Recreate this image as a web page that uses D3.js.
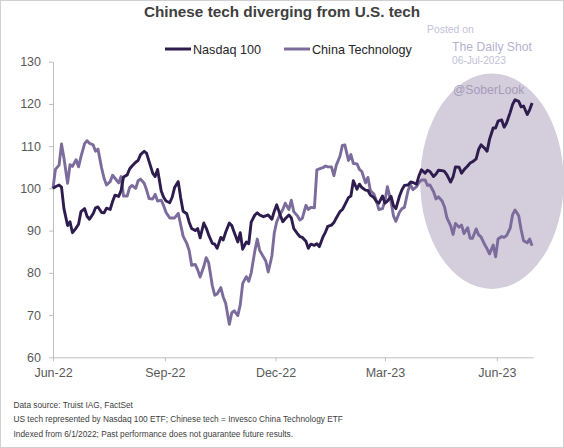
<!DOCTYPE html>
<html><head><meta charset="utf-8">
<script src="https://cdn.jsdelivr.net/npm/d3@7"></script>
<style>body{margin:0;background:#fff}svg{display:block;font-family:"Liberation Sans",Arial,sans-serif}</style>
</head><body><svg id="c" width="564" height="448"></svg>
<script>
const title = "Chinese tech diverging from U.S. tech";
const seriesNames = ["Nasdaq 100", "China Technology"];
const seriesColors = ["#2d1c4d", "#7c6c9b"];
const dates = [
"2022-06-01","2022-06-03","2022-06-06","2022-06-08","2022-06-10","2022-06-13","2022-06-15","2022-06-17","2022-06-20","2022-06-22","2022-06-24","2022-06-27","2022-06-29",
"2022-07-01","2022-07-04","2022-07-06","2022-07-08","2022-07-11","2022-07-13","2022-07-15","2022-07-18","2022-07-20","2022-07-22","2022-07-25","2022-07-27","2022-07-29",
"2022-08-01","2022-08-03","2022-08-05","2022-08-08","2022-08-10","2022-08-12","2022-08-15","2022-08-17","2022-08-19","2022-08-22","2022-08-24","2022-08-26","2022-08-29","2022-08-31",
"2022-09-02","2022-09-05","2022-09-07","2022-09-09","2022-09-12","2022-09-14","2022-09-16","2022-09-19","2022-09-21","2022-09-23","2022-09-26","2022-09-28","2022-09-30",
"2022-10-03","2022-10-05","2022-10-07","2022-10-10","2022-10-12","2022-10-14","2022-10-17","2022-10-19","2022-10-21","2022-10-24","2022-10-26","2022-10-28","2022-10-31",
"2022-11-02","2022-11-04","2022-11-07","2022-11-09","2022-11-11","2022-11-14","2022-11-16","2022-11-18","2022-11-21","2022-11-23","2022-11-25","2022-11-28","2022-11-30",
"2022-12-02","2022-12-05","2022-12-07","2022-12-09","2022-12-12","2022-12-14","2022-12-16","2022-12-19","2022-12-21","2022-12-23","2022-12-26","2022-12-28","2022-12-30",
"2023-01-02","2023-01-04","2023-01-06","2023-01-09","2023-01-11","2023-01-13","2023-01-16","2023-01-18","2023-01-20","2023-01-23","2023-01-25","2023-01-27","2023-01-30",
"2023-02-01","2023-02-03","2023-02-06","2023-02-08","2023-02-10","2023-02-13","2023-02-15","2023-02-17","2023-02-20","2023-02-22","2023-02-24","2023-02-27",
"2023-03-01","2023-03-03","2023-03-06","2023-03-08","2023-03-10","2023-03-13","2023-03-15","2023-03-17","2023-03-20","2023-03-22","2023-03-24","2023-03-27","2023-03-29","2023-03-31",
"2023-04-03","2023-04-05","2023-04-07","2023-04-10","2023-04-12","2023-04-14","2023-04-17","2023-04-19","2023-04-21","2023-04-24","2023-04-26","2023-04-28",
"2023-05-01","2023-05-03","2023-05-05","2023-05-08","2023-05-10","2023-05-12","2023-05-15","2023-05-17","2023-05-19","2023-05-22","2023-05-24","2023-05-26","2023-05-29","2023-05-31",
"2023-06-02","2023-06-05","2023-06-07","2023-06-09","2023-06-12","2023-06-14","2023-06-16","2023-06-19","2023-06-21","2023-06-23","2023-06-26","2023-06-28","2023-06-30"];
const nasdaq = [
100.0,100.4,100.8,100.3,95.2,91.2,92.1,89.5,90.6,91.5,94.5,95.2,93.4,
92.7,94.0,95.4,95.6,94.3,94.2,95.3,95.0,96.9,98.4,98.1,99.5,102.7,
103.2,104.6,105.3,106.2,106.6,108.0,108.8,108.3,106.4,103.6,102.8,104.5,99.4,97.9,
97.0,96.6,97.9,100.2,101.6,97.8,94.6,94.0,92.0,90.5,90.0,90.5,88.3,
91.8,90.6,89.0,87.0,86.8,85.8,88.4,87.8,89.6,91.8,91.2,89.6,87.3,
89.5,85.6,87.3,86.9,92.0,93.7,94.2,93.7,93.3,93.5,93.7,92.7,94.6,
96.1,93.6,92.1,92.8,93.7,93.0,90.5,89.3,88.6,88.4,87.5,85.8,86.8,
86.5,86.9,86.2,88.5,89.6,91.0,91.3,91.9,93.0,94.5,95.0,96.1,97.8,
98.2,101.8,99.8,101.0,100.2,99.6,99.5,98.4,97.8,96.9,96.5,98.2,
96.5,97.0,98.1,95.9,95.2,98.2,99.7,100.7,100.8,101.5,101.4,101.0,103.0,104.4,
103.6,104.3,104.0,102.8,103.4,104.3,104.2,104.0,103.2,101.5,102.7,105.1,
105.0,103.6,104.4,105.3,106.0,106.3,107.0,109.2,110.3,109.5,108.8,111.6,114.3,114.3,
115.9,116.2,114.5,115.5,118.0,119.9,121.0,120.6,119.3,119.5,117.5,118.6,120.2];
const china = [
100.0,104.5,105.5,110.5,107.2,101.2,105.6,105.2,106.8,105.1,107.5,110.6,111.3,
110.7,110.3,108.8,109.3,104.8,102.4,100.8,101.6,103.1,102.4,101.3,102.8,98.2,
98.2,100.2,100.7,100.0,101.8,102.2,101.2,99.6,97.6,97.5,98.6,97.0,97.2,95.9,
94.3,93.0,93.0,93.0,94.1,91.4,88.7,87.0,85.3,81.8,82.0,80.7,79.0,
81.5,83.6,82.4,77.0,74.7,75.0,76.5,74.3,72.8,67.8,70.5,71.0,69.9,
72.4,77.5,79.1,78.0,80.0,85.2,88.0,85.3,83.8,82.8,80.2,84.0,89.5,
92.1,94.0,95.0,96.5,95.0,97.2,94.5,93.5,92.5,92.9,96.0,95.0,95.5,
95.4,104.4,104.6,104.9,105.3,105.1,105.1,103.0,105.5,107.6,110.2,110.3,106.6,
108.0,105.9,105.8,104.5,104.0,101.3,102.6,99.5,98.6,97.0,95.0,95.2,
97.0,100.4,96.8,93.5,92.2,94.4,95.2,95.5,99.5,100.9,99.7,100.4,101.4,102.0,
102.0,100.7,100.8,99.2,97.5,98.0,97.0,95.6,93.0,91.2,89.1,91.7,
90.8,91.3,89.3,90.7,88.2,88.2,90.4,89.0,88.5,86.7,85.7,84.5,86.6,83.8,
88.0,88.6,88.4,88.8,90.6,93.8,94.9,93.5,90.2,87.6,87.1,88.0,86.4];
const yTicks = [60,70,80,90,100,110,120,130];
const xTickDates = ["2022-06-01","2022-09-01","2022-12-01","2023-03-01","2023-06-01"];
const xTickLabels = ["Jun-22","Sep-22","Dec-22","Mar-23","Jun-23"];
const xDomain = ["2022-06-01","2023-07-01"];
const footnotes = ["Data source: Truist IAG, FactSet",
 "US tech represented by Nasdaq 100 ETF; Chinese tech = Invesco China Technology ETF",
 "Indexed from 6/1/2022; Past performance does not guarantee future results."];
const watermark = ["Posted on","The Daily Shot","06-Jul-2023","@SoberLook"];
// highlight ellipse in data space: centre date/value and half-extent in days / index points
const highlight = {date:"2023-05-28", value:101.7, days:59, points:25.5};

const parse = d3.utcParse("%Y-%m-%d");
const svg = d3.select("#c");
const W = 564, H = 448;
const m = {l:53, r:30.7, t:61.7, b:90.7};
const x = d3.scaleUtc().domain(xDomain.map(parse)).range([m.l, W - m.r]);
const y = d3.scaleLinear().domain([60,130]).range([H - m.b, m.t]);

svg.append("rect").attr("x",0.5).attr("y",0.5).attr("width",W-1).attr("height",H-1)
  .attr("fill","#fff").attr("stroke","#d0d0d0");

// highlight ellipse
const hc = parse(highlight.date);
const ex = x(hc), ey = y(highlight.value);
const rx = x(d3.utcDay.offset(hc, highlight.days)) - ex;
const ry = y(highlight.value - highlight.points) - ey;
svg.append("ellipse").attr("cx",ex).attr("cy",ey).attr("rx",rx).attr("ry",ry).attr("fill","#d3cddc");

// axes
const yAxis = d3.axisLeft(y).tickValues(yTicks).tickSize(4).tickSizeOuter(0).tickPadding(8);
const gy = svg.append("g").attr("transform",`translate(${m.l},0)`).call(yAxis);
const xAxis = d3.axisBottom(x).tickValues(xTickDates.map(parse)).tickSize(4).tickSizeOuter(0).tickPadding(7)
  .tickFormat((d,i)=>xTickLabels[i]);
const gx = svg.append("g").attr("transform",`translate(0,${H - m.b})`).call(xAxis);
[gx,gy].forEach(g=>{
  g.select(".domain").attr("stroke","#bfbfbf");
  g.selectAll(".tick line").attr("stroke","#bfbfbf");
  g.selectAll(".tick text").attr("fill","#595959").style("font-size","12.5px").style("font-family","Liberation Sans, Arial, sans-serif");
});

// lines
const pts = dates.map(parse);
const line = d3.line().x((d,i)=>x(pts[i])).y(d=>y(d));
[china, nasdaq].forEach((s,k)=>{
  svg.append("path").datum(s).attr("d",line).attr("fill","none")
    .attr("stroke", k===0 ? seriesColors[1] : seriesColors[0])
    .attr("stroke-width",2.9).attr("stroke-linejoin","round");
});

// title
svg.append("text").attr("x",282).attr("y",17).attr("text-anchor","middle")
  .attr("font-weight","bold").attr("font-size","15.3px").attr("fill","#404040").text(title);

// legend
const leg = [{x:165, t:seriesNames[0], c:seriesColors[0]},{x:284, t:seriesNames[1], c:seriesColors[1]}];
leg.forEach(l=>{
  svg.append("line").attr("x1",l.x).attr("x2",l.x+26).attr("y1",49).attr("y2",49)
    .attr("stroke",l.c).attr("stroke-width",3);
  svg.append("text").attr("x",l.x+28).attr("y",53.5).attr("font-size","12.6px").attr("fill","#262626").text(l.t);
});

// watermark
svg.append("text").attr("x",427).attr("y",32.5).attr("font-size","10.4px").attr("fill","#c4c1da").text(watermark[0]);
svg.append("text").attr("x",452).attr("y",50.5).attr("font-size","12.2px").attr("fill","#b5b1d0").text(watermark[1]);
svg.append("text").attr("x",452).attr("y",64.3).attr("font-size","10.2px").attr("fill","#c2bfd8").text(watermark[2]);
svg.append("text").attr("x",453).attr("y",94.4).attr("font-size","12.2px").attr("fill","#a59cb8").text(watermark[3]);

// footnotes
footnotes.forEach((f,i)=>{
  svg.append("text").attr("x",13.5).attr("y",407.5 + i*14.8).attr("font-size","8.3px").attr("fill","#404040").text(f);
});
</script></body></html>
